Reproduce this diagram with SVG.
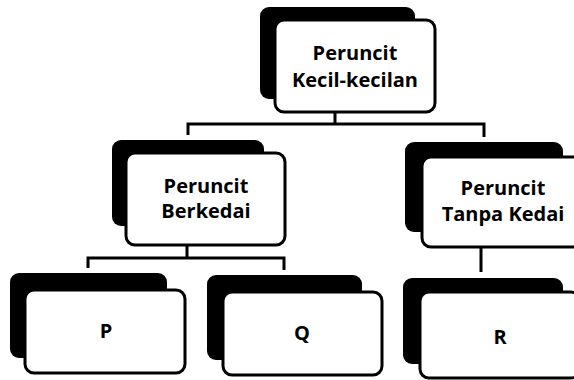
<svg xmlns="http://www.w3.org/2000/svg" width="574" height="380" viewBox="0 0 574 380">
<style>
.sh{fill:#000}
.bx{fill:#fff;stroke:#000;stroke-width:3}
.t{font-family:"Open Sans","Liberation Sans",sans-serif;font-weight:700;font-size:20px;text-anchor:middle;fill:#000}
.c{fill:none;stroke:#000;stroke-width:3}
</style>
<rect width="574" height="380" fill="#fff"/>
<g id="connectors">
<path class="c" d="M335 112V124M188 135V124H484V137"/>
<path class="c" d="M187 245V258M88 268V258H284V270"/>
<path class="c" d="M481 247V272"/>
</g>
<g id="n-top">
<rect class="sh" x="260" y="7" width="155" height="92" rx="9"/>
<rect class="bx" x="275" y="20" width="160" height="92" rx="9"/>
<text class="t" x="355" y="60">Peruncit</text>
<text class="t" x="355" y="87">Kecil-kecilan</text>
</g>
<g id="n-berkedai">
<rect class="sh" x="112" y="140" width="152" height="86" rx="9"/>
<rect class="bx" x="126" y="153" width="159" height="92" rx="9"/>
<text class="t" x="206" y="193">Peruncit</text>
<text class="t" x="206" y="218">Berkedai</text>
</g>
<g id="n-tanpa">
<rect class="sh" x="405" y="142" width="158" height="90" rx="9"/>
<rect class="bx" x="422" y="157" width="160" height="90" rx="9"/>
<text class="t" x="503" y="195">Peruncit</text>
<text class="t" x="503" y="221">Tanpa Kedai</text>
</g>
<g id="n-p">
<rect class="sh" x="10" y="273" width="157" height="85" rx="9"/>
<rect class="bx" x="25" y="290" width="160" height="83" rx="9"/>
<text class="t" x="106" y="338">P</text>
</g>
<g id="n-q">
<rect class="sh" x="207" y="275" width="155" height="85" rx="9"/>
<rect class="bx" x="223" y="292" width="159" height="83" rx="9"/>
<text class="t" x="302" y="340">Q</text>
</g>
<g id="n-r">
<rect class="sh" x="403" y="278" width="160" height="86" rx="9"/>
<rect class="bx" x="420" y="292" width="160" height="86" rx="9"/>
<text class="t" x="500" y="344">R</text>
</g>
</svg>
